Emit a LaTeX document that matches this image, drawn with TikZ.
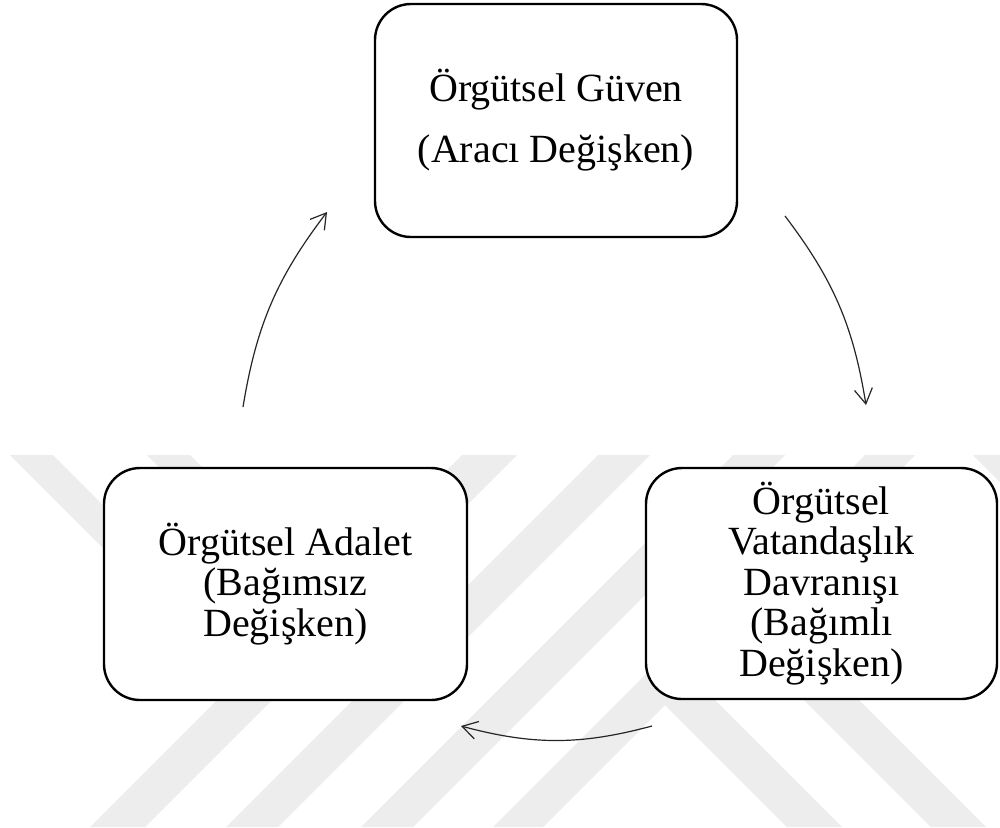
\documentclass[tikz,border=0pt]{standalone}
\usepackage{fontspec}
\setmainfont{Liberation Serif}
\usetikzlibrary{arrows.meta}
\lineskiplimit=-100pt\relax
\lineskip=0pt\relax
\begin{document}
\begin{tikzpicture}[x=0.5pt,y=-0.5pt,
  box/.style={draw=black, line width=1.2pt, fill=white, rounded corners=18pt,
              align=center, inner sep=0pt},
  link/.style={line width=0.6pt, draw=black!85, -{Straight Barb[length=7.5pt,width=9pt]}},
  wm/.style={fill=black!7, draw=none}]
\useasboundingbox (0,0) rectangle (1000,827);
\fill[white] (0,0) rectangle (1000,827);
% watermark stripes
\begin{scope}
\clip (0,455) rectangle (1000,827);
\fill[wm] (462,455) -- (517,455) -- (145,827) -- (90,827) -- cycle;
\fill[wm] (598,455) -- (650,455) -- (278,827) -- (226,827) -- cycle;
\fill[wm] (733,455) -- (785,455) -- (413,827) -- (361,827) -- cycle;
\fill[wm] (865,455) -- (915,455) -- (543,827) -- (493,827) -- cycle;
\fill[wm] (10,455) -- (53,455) -- (218,620) -- (175,620) -- cycle;
\fill[wm] (147,455) -- (190,455) -- (355,620) -- (312,620) -- cycle;
\fill[wm] (650,690) -- (705,690) -- (842,827) -- (787,827) -- cycle;
\fill[wm] (794,690) -- (849,690) -- (986,827) -- (931,827) -- cycle;
\fill[wm] (973,455) -- (1025,455) -- (1090,520) -- (1038,520) -- cycle;
\end{scope}
% boxes
\node[box, minimum width=181pt, minimum height=116.5pt,
      font=\fontsize{20}{30.5}\selectfont] (guven) at (556,120.5)
      {Örgütsel Güven\\(Aracı Değişken)};
\node[box, minimum width=181.5pt, minimum height=116pt,
      font=\fontsize{20}{20.25}\selectfont] (adalet) at (285.5,584)
      {Örgütsel Adalet\\(Bağımsız\\Değişken)};
\node[box, minimum width=175.5pt, minimum height=115.5pt,
      font=\fontsize{20}{20.25}\selectfont] (vatandas) at (821.5,583.5)
      {Örgütsel\\Vatandaşlık\\Davranışı\\(Bağımlı\\Değişken)};
% connectors
\coordinate (a1s) at (243,407);
\coordinate (a1e) at (327,212);
\coordinate (a2s) at (785,216);
\coordinate (a2e) at (866,405);
\coordinate (a3s) at (652,726);
\coordinate (a3e) at (461,726);
\draw[link] (a1s) to[bend left=14] (a1e);
\draw[link] (a2s) to[bend left=14] (a2e);
\draw[link] (a3s) to[bend left=15] (a3e);
\end{tikzpicture}
\end{document}
